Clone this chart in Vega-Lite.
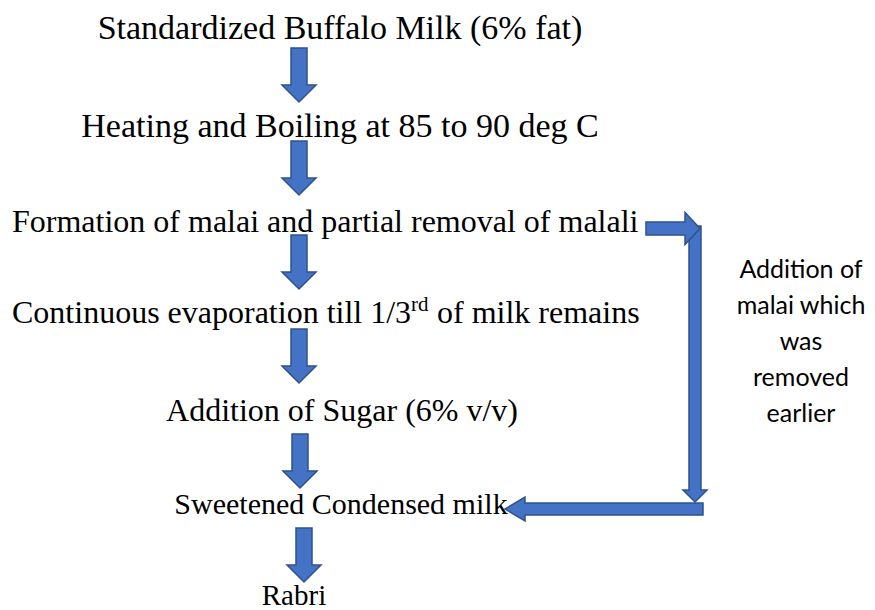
{
  "$schema": "https://vega.github.io/schema/vega-lite/v6.json",
  "width": 875,
  "height": 610,
  "autosize": "none",
  "padding": 0,
  "background": "white",
  "config": {"view": {"stroke": null}},
  "encoding": {
    "x": {"field": "x", "type": "quantitative", "scale": {"domain": [0, 875], "nice": false, "zero": false}, "axis": null},
    "y": {"field": "y", "type": "quantitative", "scale": {"domain": [0, 610], "nice": false, "zero": false, "reverse": true}, "axis": null}
  },
  "layer": [
    {
      "data": {"values": [
        {"kind": "long_down", "x": 695, "y": 490},
        {"kind": "right", "x": 685, "y": 228.5},
        {"kind": "left", "x": 525, "y": 509},
        {"kind": "down", "x": 299, "y": 75},
        {"kind": "down", "x": 299, "y": 168},
        {"kind": "down", "x": 299, "y": 262},
        {"kind": "down", "x": 299, "y": 356},
        {"kind": "down", "x": 300, "y": 461},
        {"kind": "down", "x": 304, "y": 555}
      ]},
      "mark": {"type": "point", "filled": true, "fill": "#4472C4", "stroke": "#2F528F", "strokeWidth": 1.5, "opacity": 1, "size": 4},
      "encoding": {
        "shape": {"field": "kind", "type": "nominal", "legend": null,
          "scale": {"domain": ["down", "right", "long_down", "left"],
            "range": [
              "M-8,-27L8,-27L8,10L17,10L0,27L-17,10L-8,10Z",
              "M-39,-6.5L0,-6.5L0,-16L15,0L0,16L0,6.5L-39,6.5Z",
              "M-6,-264L6,-264L6,0L12,0L0,12L-12,0L-6,0Z",
              "M178,-6L178,6L0,6L0,12L-20,0L0,-12L0,-6Z"
            ]}}
      }
    },
    {
      "data": {"values": [
        {"text": "Standardized Buffalo Milk (6% fat)", "x": 340, "y": 39},
        {"text": "Heating and Boiling at 85 to 90 deg C", "x": 340, "y": 137}
      ]},
      "mark": {"type": "text", "font": "Liberation Serif", "fontSize": 34, "align": "center", "baseline": "alphabetic", "color": "black"},
      "encoding": {"text": {"field": "text"}}
    },
    {
      "data": {"values": [
        {"text": "Addition of Sugar (6% v/v)", "x": 342, "y": 421}
      ]},
      "mark": {"type": "text", "font": "Liberation Serif", "fontSize": 32, "align": "center", "baseline": "alphabetic", "color": "black"},
      "encoding": {"text": {"field": "text"}}
    },
    {
      "data": {"values": [
        {"text": "Sweetened Condensed milk", "x": 341, "y": 514}
      ]},
      "mark": {"type": "text", "font": "Liberation Serif", "fontSize": 30, "align": "center", "baseline": "alphabetic", "color": "black"},
      "encoding": {"text": {"field": "text"}}
    },
    {
      "data": {"values": [
        {"text": "Rabri", "x": 294, "y": 605}
      ]},
      "mark": {"type": "text", "font": "Liberation Serif", "fontSize": 29, "align": "center", "baseline": "alphabetic", "color": "black"},
      "encoding": {"text": {"field": "text"}}
    },
    {
      "data": {"values": [
        {"text": "Formation of malai and partial removal of malali", "x": 12, "y": 232},
        {"text": "Continuous evaporation till 1/3", "x": 12, "y": 323},
        {"text": "of milk remains", "x": 437, "y": 323}
      ]},
      "mark": {"type": "text", "font": "Liberation Serif", "fontSize": 32, "align": "left", "baseline": "alphabetic", "color": "black"},
      "encoding": {"text": {"field": "text"}}
    },
    {
      "data": {"values": [
        {"text": "rd", "x": 411, "y": 311}
      ]},
      "mark": {"type": "text", "font": "Liberation Serif", "fontSize": 21, "align": "left", "baseline": "alphabetic", "color": "black"},
      "encoding": {"text": {"field": "text"}}
    },
    {
      "data": {"values": [
        {"text": "Addition of\nmalai which\nwas\nremoved\nearlier", "x": 801, "y": 278}
      ]},
      "mark": {"type": "text", "font": "Lato", "fontSize": 25, "align": "center", "baseline": "alphabetic", "lineBreak": "\n", "lineHeight": 36, "color": "black"},
      "encoding": {"text": {"field": "text"}}
    }
  ]
}
